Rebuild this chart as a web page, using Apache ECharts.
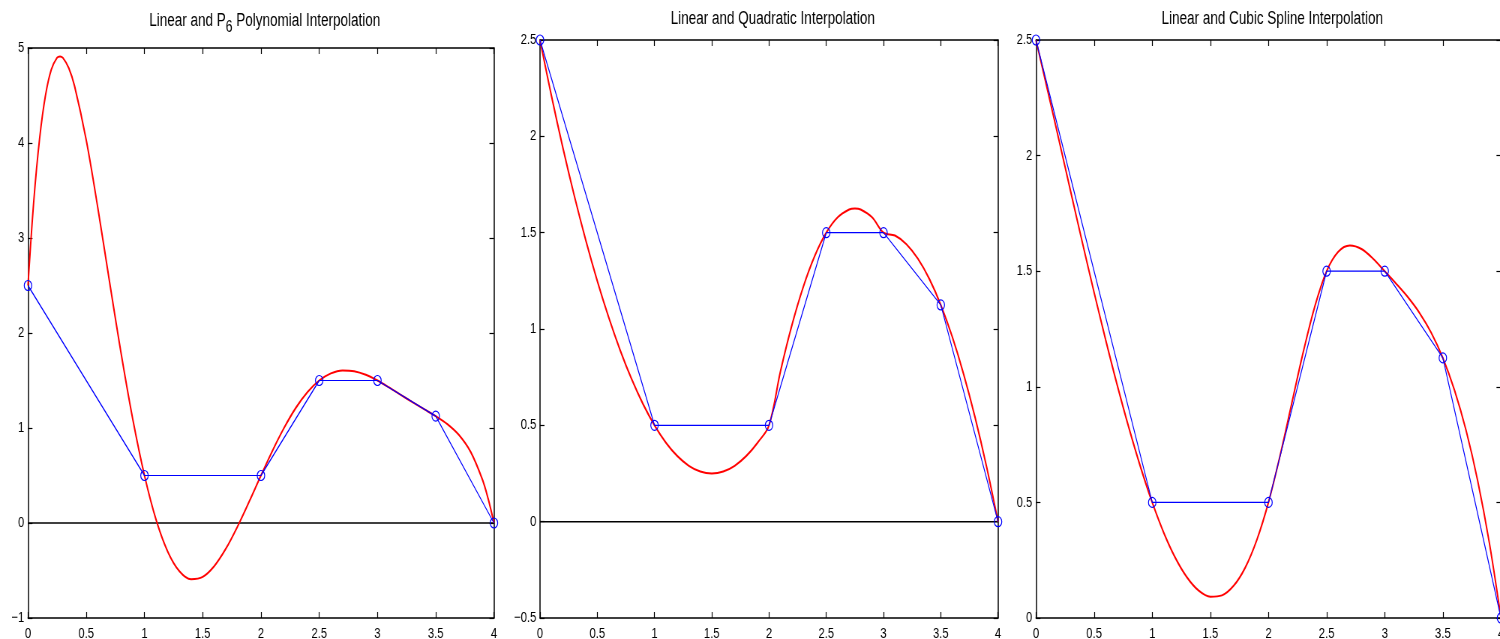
<!DOCTYPE html>
<html>
<head>
<meta charset="utf-8">
<script src="https://cdn.jsdelivr.net/npm/echarts@6/dist/echarts.min.js"></script>
<style>
  html, body { margin: 0; padding: 0; background: #fff; overflow: hidden; }
  #wrap { width: 1500px; height: 639px; overflow: hidden; }
  /* the original figure is squeezed horizontally, so draw wide and scale */
  #chart { width: 2000px; height: 639px; transform: scaleX(0.75); transform-origin: 0 0; }
</style>
</head>
<body>
<div id="wrap"><div id="chart"></div></div>
<script>
// data points (blue linear interpolation)
const knotX = [0, 1, 2, 2.5, 3, 3.5, 4]
const knotY = [2.5, 0.5, 0.5, 1.5, 1.5, 1.125, 0]

// red curve of panel 1 (P6 polynomial)
const polyX = [0, 0.05, 0.1, 0.15, 0.2, 0.25, 0.275, 0.3, 0.35, 0.4, 0.5, 0.6, 0.7, 0.8, 0.9,
  1, 1.1, 1.2, 1.3, 1.4, 1.5, 1.6, 1.7, 1.8, 1.9, 2, 2.1, 2.2, 2.3, 2.4, 2.5,
  2.6, 2.7, 2.8, 2.9, 3, 3.1, 3.2, 3.3, 3.4, 3.5, 3.6, 3.7, 3.8, 3.9, 3.95, 4]
const polyY = [2.5, 3.392, 4.048, 4.499, 4.773, 4.898, 4.911, 4.896, 4.79, 4.599, 4.031, 3.313, 2.539, 1.781, 1.089,
  0.5, 0.033, -0.302, -0.508, -0.591, -0.567, -0.452, -0.268, -0.034, 0.228, 0.5, 0.764, 1.005, 1.213, 1.379, 1.5,
  1.575, 1.606, 1.598, 1.56, 1.5, 1.427, 1.349, 1.272, 1.198, 1.125, 1.041, 0.926, 0.748, 0.46, 0.256, 0]

// red curve of panel 2 (piecewise quadratic)
const quadX = [0, 0.1, 0.2, 0.3, 0.4, 0.5, 0.6, 0.7, 0.8, 0.9, 1, 1.1, 1.2, 1.3, 1.4, 1.5, 1.6, 1.7, 1.8, 1.9,
  2, 2.1, 2.2, 2.3, 2.4, 2.5, 2.6, 2.7, 2.75, 2.8, 2.9, 3, 3.1, 3.2, 3.3, 3.4, 3.5, 3.6, 3.7, 3.8, 3.9, 4]
const quadY = [2.5, 2.21, 1.94, 1.69, 1.46, 1.25, 1.06, 0.89, 0.74, 0.61, 0.5, 0.41, 0.34, 0.29, 0.26, 0.25, 0.26, 0.29, 0.34, 0.41,
  0.5, 0.78, 1.02, 1.22, 1.38, 1.5, 1.58, 1.62, 1.625, 1.62, 1.58, 1.5, 1.485, 1.44, 1.365, 1.26, 1.125, 0.96, 0.765, 0.54, 0.285, 0]

// red curve of panel 3 (cubic spline)
const splineX = [0, 0.1, 0.2, 0.3, 0.4, 0.5, 0.6, 0.7, 0.8, 0.9, 1, 1.1, 1.2, 1.3, 1.4, 1.5, 1.6, 1.7, 1.8, 1.9,
  2, 2.1, 2.2, 2.3, 2.4, 2.5, 2.6, 2.7, 2.8, 2.9, 3, 3.1, 3.2, 3.3, 3.4, 3.5, 3.6, 3.7, 3.8, 3.9, 4]
const splineY = [2.5, 2.282, 2.062, 1.841, 1.622, 1.408, 1.202, 1.005, 0.821, 0.652, 0.5, 0.368, 0.259, 0.175, 0.118, 0.092, 0.098, 0.139, 0.218, 0.338,
  0.5, 0.703, 0.928, 1.152, 1.35, 1.5, 1.584, 1.611, 1.596, 1.554, 1.5, 1.445, 1.387, 1.319, 1.234, 1.125, 0.986, 0.811, 0.593, 0.325, 0]

const titles = ['Linear and P{s|6} Polynomial Interpolation', 'Linear and Quadratic Interpolation', 'Linear and Cubic Spline Interpolation']
const yMin = [-1, -0.5, 0]
const yMax = [5, 2.5, 2.5]
const yStep = [1, 0.5, 0.5]

const FONT = '"Liberation Sans", Arial, sans-serif'

// positions in the unscaled (2000px wide) drawing
const grids = [
  { left: 37.3, top: 48, width: 621.3, height: 570, outerBoundsMode: 'none' },
  { left: 720, top: 40, width: 610.7, height: 578, outerBoundsMode: 'none' },
  { left: 1381.3, top: 40, width: 620, height: 578, outerBoundsMode: 'none' },
]
const titleTop = [1, 5, 5]

const pairs = (xs, ys) => xs.map((x, i) => [x, ys[i]])
const redCurves = [pairs(polyX, polyY), pairs(quadX, quadY), pairs(splineX, splineY)]

const axisLine = { show: true, onZero: false, lineStyle: { color: '#000', width: 1.5 } }
const tick = { show: true, inside: true, length: 6, lineStyle: { color: '#000', width: 1.2 } }
const fmt = (v) => String(v).replace('-', '\u2212')

const xAxis = []
const yAxis = []
const series = []
const title = []

grids.forEach((g, i) => {
  title.push({
    text: titles[i],
    left: g.left + g.width / 2,
    textAlign: 'center',
    top: titleTop[i],
    textStyle: {
      fontFamily: FONT, fontSize: 18, fontWeight: 'normal', color: '#000',
      rich: { s: { fontFamily: FONT, fontSize: 16, color: '#000', padding: [14, 0, 0, 0] } },
    },
  })
  // bottom + top
  xAxis.push({
    gridIndex: i, type: 'value', min: 0, max: 4, interval: 0.5, position: 'bottom',
    axisLine, axisTick: tick, splitLine: { show: false },
    axisLabel: { color: '#000', fontFamily: FONT, fontSize: 15, margin: 8, formatter: fmt },
  })
  xAxis.push({
    gridIndex: i, type: 'value', min: 0, max: 4, interval: 0.5, position: 'top',
    axisLine, axisTick: tick, splitLine: { show: false }, axisLabel: { show: false },
  })
  // left + right
  yAxis.push({
    gridIndex: i, type: 'value', min: yMin[i], max: yMax[i], interval: yStep[i], position: 'left',
    axisLine, axisTick: tick, splitLine: { show: false },
    axisLabel: { color: '#000', fontFamily: FONT, fontSize: 15, margin: 5, formatter: fmt },
  })
  yAxis.push({
    gridIndex: i, type: 'value', min: yMin[i], max: yMax[i], interval: yStep[i], position: 'right',
    axisLine, axisTick: tick, splitLine: { show: false }, axisLabel: { show: false },
  })

  // zero line
  if (yMin[i] < 0) {
    series.push({
      type: 'line', xAxisIndex: i * 2, yAxisIndex: i * 2,
      data: [[0, 0], [4, 0]], symbol: 'none', silent: true,
      lineStyle: { color: '#000', width: 1.5 },
    })
  }
  // red interpolant
  series.push({
    type: 'line', xAxisIndex: i * 2, yAxisIndex: i * 2,
    data: redCurves[i], smooth: 0.35, symbol: 'none',
    lineStyle: { color: '#ff0000', width: 2 },
  })
  // blue linear
  series.push({
    type: 'line', xAxisIndex: i * 2, yAxisIndex: i * 2,
    data: pairs(knotX, knotY), symbol: 'circle', symbolSize: 10,
    itemStyle: { color: 'rgba(0,0,0,0)', borderColor: '#0000ff', borderWidth: 1.2 },
    lineStyle: { color: '#0000ff', width: 1.2 },
  })
})

const chart = echarts.init(document.getElementById('chart'))
chart.setOption({
  animation: false,
  backgroundColor: '#fff',
  title,
  grid: grids,
  xAxis,
  yAxis,
  series,
})
</script>
</body>
</html>
